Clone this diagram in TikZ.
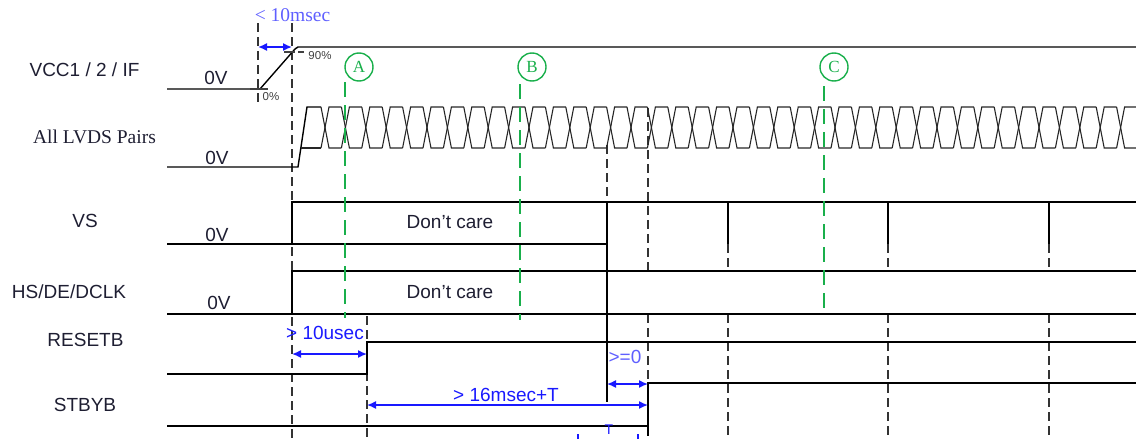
\documentclass[tikz,border=0pt]{standalone}
\usepackage{fontspec}
\setmainfont{Liberation Sans}
\newfontfamily\seriff{Liberation Serif}
\usetikzlibrary{arrows.meta}
\definecolor{lbl}{RGB}{30,30,50}
\definecolor{ann}{RGB}{25,25,255}
\definecolor{annlight}{RGB}{95,95,255}
\definecolor{grn}{RGB}{25,175,75}
\begin{document}
\begin{tikzpicture}[x=1pt,y=-1pt,
  sig/.style={line width=1.4pt,black},
  eye/.style={line width=1.1pt,black!85},
  guide/.style={line width=1.9pt,black!80,dash pattern=on 9pt off 5pt},
  gguide/.style={line width=2.6pt,grn,dash pattern=on 15pt off 8pt},
  lab/.style={font=\fontsize{19}{22}\selectfont,text=lbl,inner sep=0pt},
  zv/.style={font=\fontsize{19}{22}\selectfont,text=lbl,inner sep=0pt},
  note/.style={font=\fontsize{19}{22}\selectfont,text=ann,inner sep=0pt},
  pct/.style={font=\fontsize{11.5}{13}\selectfont,text=black!75,inner sep=0pt},
  gcirc/.style={circle,draw=grn,line width=1.4pt,minimum size=28pt,inner sep=0pt,text=grn,font=\seriff\fontsize{17}{19}\selectfont},
  dim/.style={line width=1.5pt,ann,{Latex[length=9pt,width=8pt]}-{Latex[length=9pt,width=8pt]}}
]
\useasboundingbox (0,0) rectangle (1136,439);

% ---------- labels ----------
\node[lab] (lvcc) at (84.5,70) {VCC1 / 2 / IF};
\node[lab,font=\seriff\fontsize{19.5}{22}\selectfont] (llvds) at (94.5,137) {All LVDS Pairs};
\node[lab] (lvs) at (85,221) {VS};
\node[lab] (lhs) at (69,292) {HS/DE/DCLK};
\node[lab] (lres) at (85.5,340) {RESETB};
\node[lab] (lstb) at (85,405) {STBYB};
\node[zv] (z1) at (216,78) {0V};
\node[zv] (z2) at (217,158) {0V};
\node[zv] (z3) at (217,235) {0V};
\node[zv] (z4) at (219,303) {0V};

% ---------- guide lines (black dashed) ----------
\draw[guide] (258,23) -- (258,105);
\draw[guide] (292,23) -- (292,439);
\draw[guide] (367,316) -- (367,439);
\draw[guide] (607,145) -- (607,202);
\draw[guide] (648,108) -- (648,271);
\draw[guide] (648,314) -- (648,439);
\foreach \x in {728,888,1049}{
  \draw[guide] (\x,244) -- (\x,271);
  \draw[guide] (\x,314) -- (\x,439);
}

% ---------- VCC ----------
\draw[sig] (167,89) -- (260,89) -- (295,49) -- (298,47) -- (1136,47);
\draw[line width=2.4pt,black!75] (250,89) -- (268,89);
\draw[line width=2.4pt,black!75] (284,52) -- (295,52);
\draw[line width=1.6pt,black!75] (298,52) -- (304,52);
\node[pct] (p90) at (320,56) {90\%};
\node[pct] (p0) at (271,97) {0\%};

% ---------- LVDS ----------
\draw[sig] (167,167) -- (298,167) -- (307,107) -- (321,107);
\draw[eye] (300.9,148) -- (321,148);
\foreach \k in {0,...,39}{
  \pgfmathsetmacro{\xc}{325+20.4*\k}
  \pgfmathsetmacro{\xn}{325+20.4*(\k+1)-4}
  \draw[eye] (\xc-4,107) -- (\xc+4,148) -- (\xn,148);
  \draw[eye] (\xc-4,148) -- (\xc+4,107) -- (\xn,107);
}

% ---------- VS ----------
\draw[sig] (167,244) -- (607,244);
\draw[sig] (292,244) -- (292,202) -- (1136,202);
\draw[sig] (607,202) -- (607,402);
\foreach \x in {728,888,1049}{\draw[sig] (\x,202) -- (\x,244);}
\node[lab] (dc1) at (450,222) {Don’t care};

% ---------- HS ----------
\draw[sig] (167,314) -- (1136,314);
\draw[sig] (292,314) -- (292,271) -- (1136,271);
\node[lab] (dc2) at (450,292) {Don’t care};

% ---------- RESETB ----------
\draw[sig] (167,374) -- (367,374) -- (367,342) -- (1136,342);

% ---------- STBYB ----------
\draw[sig] (167,426) -- (648,426) -- (648,383) -- (1136,383);
\draw[sig] (648,426) -- (648,436);

% ---------- green markers ----------
\node[gcirc] (cA) at (359,67) {A};
\node[gcirc] (cB) at (532,67) {B};
\node[gcirc] (cC) at (834,67) {C};
\draw[gguide] (345,82) -- (345,318);
\draw[gguide] (520,84) -- (520,320);
\draw[gguide] (824,86) -- (824,313);

% ---------- timing annotations ----------
\coordinate (t0) at (258,47);
\coordinate (t1) at (292,47);
\draw[dim] (t0) -- (t1);
\node[note,text=annlight,font=\seriff\fontsize{19.5}{22}\selectfont] (n10ms) at (292.5,15) {< 10msec};

\coordinate (r0) at (292,354);
\coordinate (r1) at (367,354);
\draw[dim] (r0) -- (r1);
\node[note] (n10us) at (325,333) {> 10usec};

\coordinate (s0) at (367,405);
\coordinate (s1) at (648,405);
\draw[dim] (s0) -- (s1);
\node[note] (n16) at (506,395) {> 16msec+T};

\coordinate (g0) at (607,384);
\coordinate (g1) at (648,384);
\draw[dim] (g0) -- (g1);
\node[note,text=annlight] (nge) at (625,357) {>=0};

\node[note,font=\fontsize{14}{16}\selectfont] (nT) at (609,430) {T};
\draw[line width=1.4pt,ann] (578,434) -- (578,439);
\draw[line width=1.4pt,ann] (638,434) -- (638,439);
\end{tikzpicture}
\end{document}
